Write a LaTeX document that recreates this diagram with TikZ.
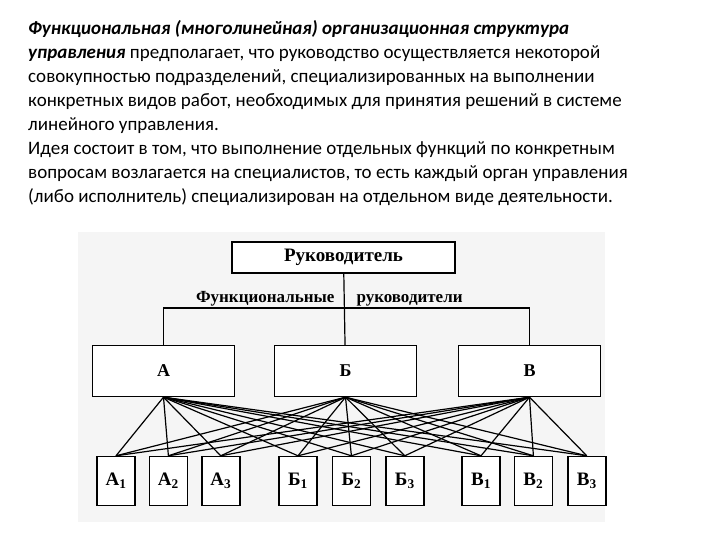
\documentclass[tikz,border=0pt]{standalone}
\usepackage{fontspec}
\setmainfont{Liberation Serif}
\newfontfamily\blockfont{Carlito}
\usetikzlibrary{positioning}

\begin{document}
\begin{tikzpicture}[x=1pt, y=-1pt,
        head/.style={draw, fill=white, line width=1.4pt, minimum width=223pt, minimum height=31pt, font=\bfseries\fontsize{19}{19}\selectfont},
        unit/.style={draw, fill=white, line width=1.4pt, minimum width=142pt, minimum height=51pt, font=\bfseries\fontsize{18}{18}\selectfont},
        sub/.style={draw, fill=white, line width=1.4pt, minimum width=38pt, minimum height=49pt, inner sep=0pt, font=\bfseries\fontsize{19}{19}\selectfont},
        link/.style={line width=1.2pt},
        intro/.style={anchor=north west, inner sep=0pt, align=left, font=\blockfont\fontsize{19}{24}\selectfont}
      ]
        \useasboundingbox (0,0) rectangle (720,540);
        \fill[black!4] (78,232) rectangle (605,522);
        % text above the chart
        \node[intro] (text) at (28,20) {\textbf{\textit{Функциональная (многолинейная) организационная структура}}\\
          \textbf{\textit{управления}} предполагает, что руководство осуществляется некоторой\\
          совокупностью подразделений, специализированных на выполнении\\
          конкретных видов работ, необходимых для принятия решений в системе\\
          линейного управления.\\
          Идея состоит в том, что выполнение отдельных функций по конкретным\\
          вопросам возлагается на специалистов, то есть каждый орган управления\\
          (либо исполнитель) специализирован на отдельном виде деятельности.};
        % chart
        \node[head] (boss) at (343.5,257.5) {Руководитель};
        \node[unit] (A) at (163.5,371) {А};
        \node[unit] (B) at (345.5,371) {Б};
        \node[unit] (V) at (529.5,371) {В};
        \coordinate (bus) at (345.5,308);
        \node[anchor=base east, font=\bfseries\fontsize{17}{17}\selectfont] (fl) at (338,302) {Функциональные};
        \node[anchor=base west, font=\bfseries\fontsize{17}{17}\selectfont] (fr) at (353,302) {руководители};
        \node[sub] (a1) at (116,481) {А\textsubscript{1}};
        \node[sub, right=13pt of a1] (a2) {А\textsubscript{2}};
        \node[sub, right=13pt of a2] (a3) {А\textsubscript{3}};
        \node[sub] (b1) at (298,481) {Б\textsubscript{1}};
        \node[sub, right=14pt of b1] (b2) {Б\textsubscript{2}};
        \node[sub, right=14pt of b2] (b3) {Б\textsubscript{3}};
        \node[sub] (v1) at (481,481) {В\textsubscript{1}};
        \node[sub, right=13pt of v1] (v2) {В\textsubscript{2}};
        \node[sub, right=14pt of v2] (v3) {В\textsubscript{3}};
        \draw[link] (boss) -- (B);
        \draw[link] (A.north) |- (bus) -| (V.north);
        \foreach \top in {A,B,V}
          \foreach \low in {a1,a2,a3,b1,b2,b3,v1,v2,v3}
            \draw[link] (\top.south) -- (\low.north);
      \end{tikzpicture}
\end{document}
